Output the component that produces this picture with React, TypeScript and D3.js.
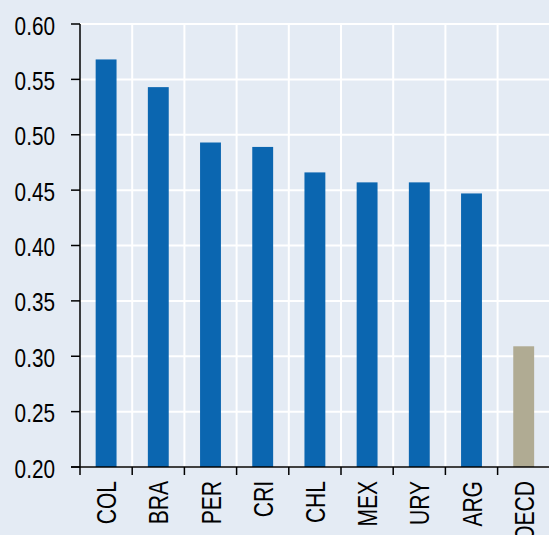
import React, { useEffect, useRef } from "react";
import * as d3 from "d3";

const countries = ["COL", "BRA", "PER", "CRI", "CHL", "MEX", "URY", "ARG", "OECD"];
const values = [0.568, 0.543, 0.493, 0.489, 0.466, 0.457, 0.457, 0.447, 0.309];
const yTicks = [0.2, 0.25, 0.3, 0.35, 0.4, 0.45, 0.5, 0.55, 0.6];

const WIDTH = 549;
const HEIGHT = 535;
const FONT = "Liberation Sans, Arial, sans-serif";

export default function App() {
  const svgRef = useRef<SVGSVGElement>(null);

  useEffect(() => {
    document.body.style.margin = "0";
    if (!svgRef.current) return;
    const svg = d3.select(svgRef.current);
    svg.selectAll("*").remove();

    const margin = { top: 24, right: 0, bottom: 68, left: 80 };
    const plotBottom = HEIGHT - margin.bottom;

    // background
    svg.append("rect").attr("width", WIDTH).attr("height", HEIGHT).attr("fill", "#e4ebf4");

    const x = d3.scaleBand<string>().domain(countries).range([margin.left, 549.8]).paddingInner(0).paddingOuter(0);
    const y = d3.scaleLinear().domain([0.2, 0.6]).range([plotBottom, margin.top]);
    const bw = x.bandwidth();

    // horizontal gridlines
    svg
      .append("g")
      .selectAll("line")
      .data(yTicks)
      .enter()
      .append("line")
      .attr("x1", margin.left)
      .attr("x2", WIDTH)
      .attr("y1", (d) => y(d))
      .attr("y2", (d) => y(d))
      .attr("stroke", "#ffffff")
      .attr("stroke-width", 2);

    // vertical gridlines at band boundaries
    svg
      .append("g")
      .selectAll("line")
      .data(countries.slice(1))
      .enter()
      .append("line")
      .attr("x1", (d) => x(d)!)
      .attr("x2", (d) => x(d)!)
      .attr("y1", margin.top)
      .attr("y2", plotBottom)
      .attr("stroke", "#ffffff")
      .attr("stroke-width", 2);

    // bars
    svg
      .append("g")
      .selectAll("rect")
      .data(countries)
      .enter()
      .append("rect")
      .attr("x", (d) => x(d)! + bw * 0.3)
      .attr("width", bw * 0.4)
      .attr("y", (d, i) => y(values[i]))
      .attr("height", (d, i) => plotBottom - y(values[i]))
      .attr("fill", (d) => (d === "OECD" ? "#b0ab93" : "#0b66b0"));

    // y axis
    const yg = svg.append("g");
    yg.append("line")
      .attr("x1", margin.left)
      .attr("x2", margin.left)
      .attr("y1", margin.top)
      .attr("y2", plotBottom)
      .attr("stroke", "#000")
      .attr("stroke-width", 1.5);
    yg.selectAll(".yt")
      .data(yTicks)
      .enter()
      .append("line")
      .attr("x1", 71)
      .attr("x2", margin.left)
      .attr("y1", (d) => y(d))
      .attr("y2", (d) => y(d))
      .attr("stroke", "#000")
      .attr("stroke-width", 1.5);
    yg.selectAll("text")
      .data(yTicks)
      .enter()
      .append("text")
      .attr("transform", (d) => `translate(55,${y(d)}) scale(0.83,1)`)
      .attr("dy", "0.42em")
      .attr("text-anchor", "end")
      .attr("fill", "#000")
      .style("font-family", FONT)
      .style("font-size", "25px")
      .text((d) => d3.format(".2f")(d));

    // x axis
    const tickPos = countries.slice(1).map((c) => x(c)!);
    const xg = svg.append("g");
    xg.append("line")
      .attr("x1", 71)
      .attr("x2", WIDTH)
      .attr("y1", plotBottom)
      .attr("y2", plotBottom)
      .attr("stroke", "#000")
      .attr("stroke-width", 1.5);
    xg.selectAll(".xt")
      .data([margin.left, ...tickPos])
      .enter()
      .append("line")
      .attr("x1", (d) => d)
      .attr("x2", (d) => d)
      .attr("y1", plotBottom)
      .attr("y2", plotBottom + 8)
      .attr("stroke", "#000")
      .attr("stroke-width", 1.5);

    xg.selectAll("text")
      .data(countries)
      .enter()
      .append("text")
      .attr(
        "transform",
        (d) => `translate(${x(d)! + bw / 2 + 10},${plotBottom + 14}) rotate(-90) scale(0.78,1)`
      )
      .attr("text-anchor", "end")
      .attr("fill", "#000")
      .style("font-family", FONT)
      .style("font-size", "27px")
      .text((d) => d);
  }, []);

  return (
    <svg
      ref={svgRef}
      width={WIDTH}
      height={HEIGHT}
      style={{ position: "absolute", left: 0, top: 0, display: "block" }}
    />
  );
}
